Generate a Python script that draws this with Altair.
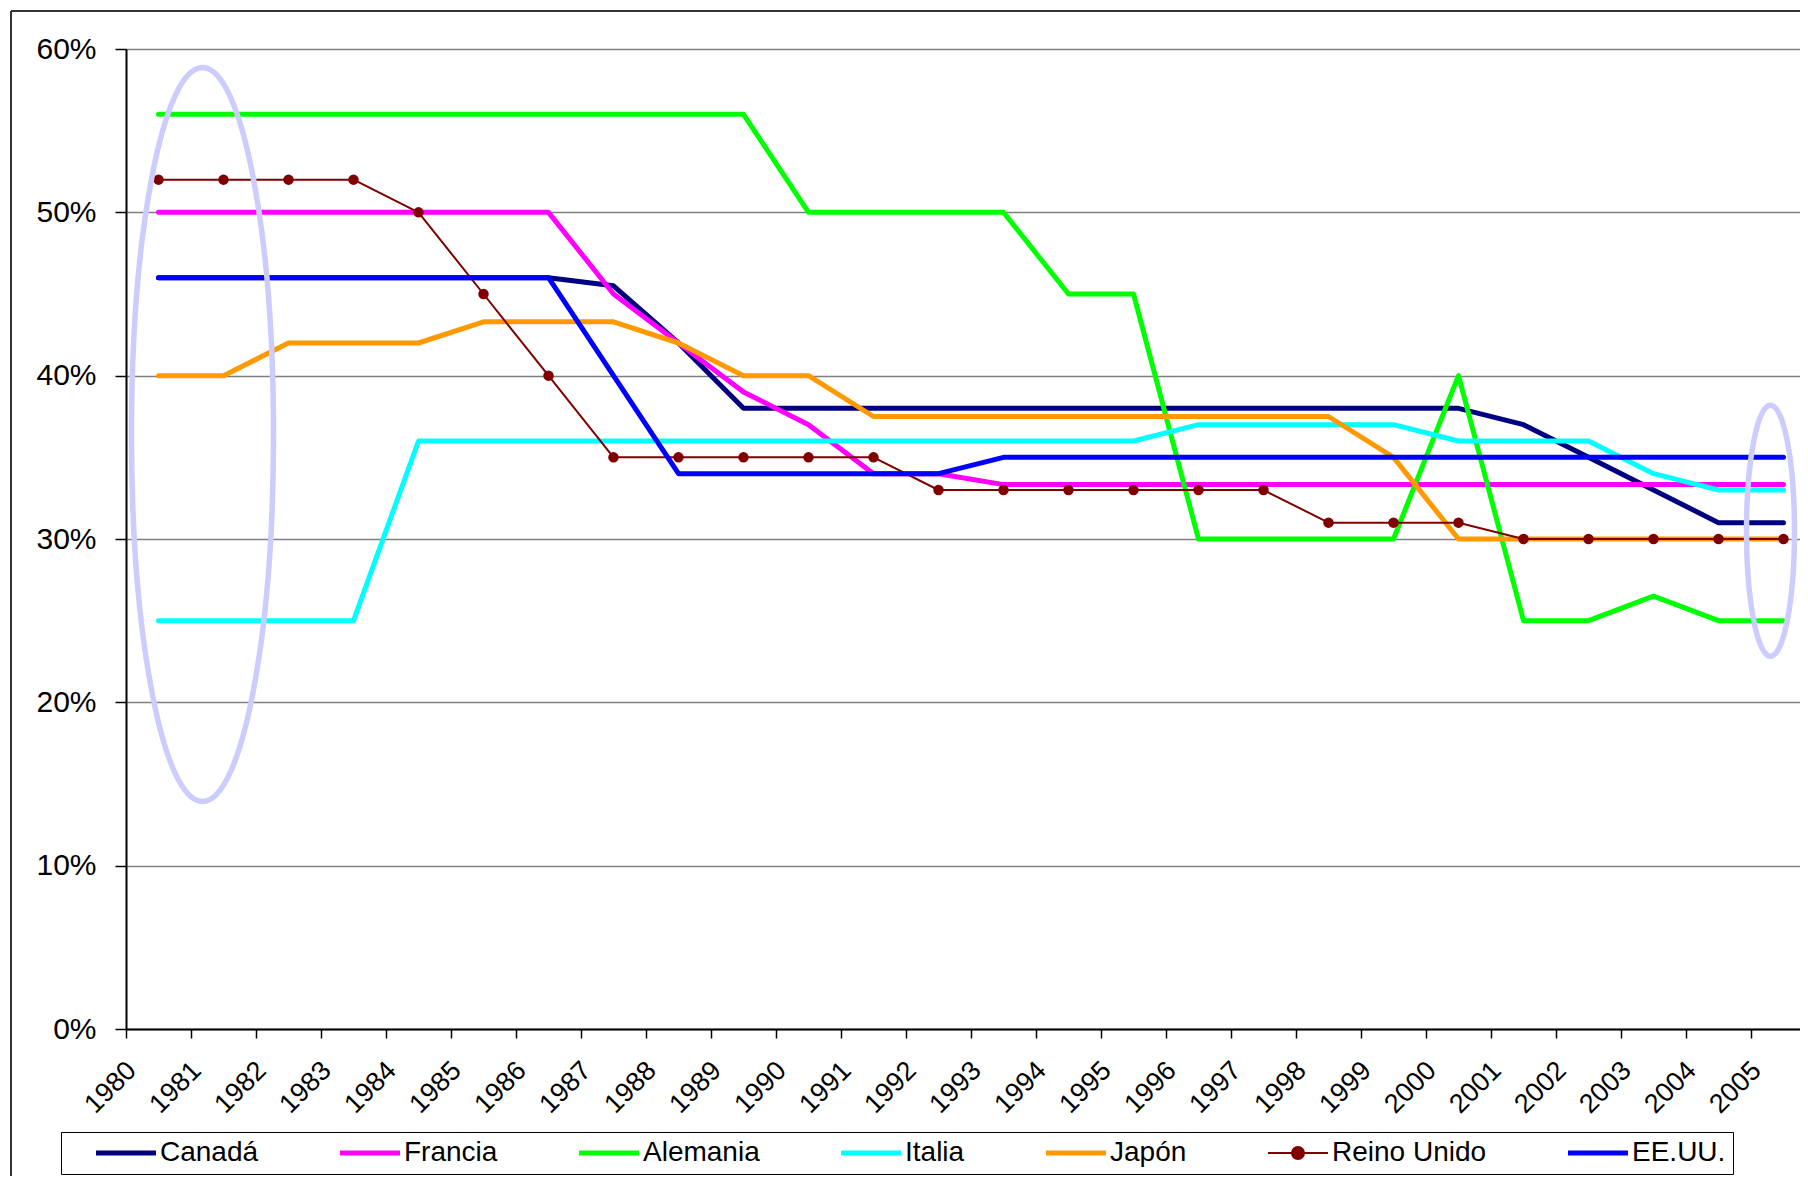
import altair as alt
import pandas as pd

years = [str(y) for y in range(1980, 2006)]
countries = ["Canadá", "Francia", "Alemania", "Italia", "Japón", "Reino Unido", "EE.UU."]
colors = ["#000080", "#FF00FF", "#00FF00", "#00FFFF", "#FF9900", "#800000", "#0000FF"]

canada = [46, 46, 46, 46, 46, 46, 46, 45.5, 42, 38, 38, 38, 38, 38, 38, 38, 38, 38, 38, 38, 38, 37, 35, 33, 31, 31]
francia = [50, 50, 50, 50, 50, 50, 50, 45, 42, 39, 37, 34, 34, 33.33, 33.33, 33.33, 33.33, 33.33, 33.33, 33.33,
           33.33, 33.33, 33.33, 33.33, 33.33, 33.33]
alemania = [56, 56, 56, 56, 56, 56, 56, 56, 56, 56, 50, 50, 50, 50, 45, 45, 30, 30, 30, 30, 40, 25, 25, 26.5, 25, 25]
italia = [25, 25, 25, 25, 36, 36, 36, 36, 36, 36, 36, 36, 36, 36, 36, 36, 37, 37, 37, 37, 36, 36, 36, 34, 33, 33]
japon = [40, 40, 42, 42, 42, 43.3, 43.3, 43.3, 42, 40, 40, 37.5, 37.5, 37.5, 37.5, 37.5, 37.5, 37.5, 37.5, 35,
         30, 30, 30, 30, 30, 30]
reino_unido = [52, 52, 52, 52, 50, 45, 40, 35, 35, 35, 35, 35, 33, 33, 33, 33, 33, 33, 31, 31, 31, 30, 30, 30, 30, 30]
eeuu = [46, 46, 46, 46, 46, 46, 46, 40, 34, 34, 34, 34, 34, 35, 35, 35, 35, 35, 35, 35, 35, 35, 35, 35, 35, 35]
series = [canada, francia, alemania, italia, japon, reino_unido, eeuu]

# highlighted regions (ellipse annotations): year anchor and centre value (%)
ellipse_years = ["1980", "2005"]
ellipse_centres = [36.4, 30.5]

rows = []
for c, vals in zip(countries, series):
    for y, v in zip(years, vals):
        rows.append({"Año": y, "País": c, "Tasa": v / 100})
df = pd.DataFrame(rows)

FONT = "Liberation Sans"

x_scale = alt.Scale(type="band", domain=years, range=[0, 1690], paddingInner=0, paddingOuter=0)
y_scale = alt.Scale(domain=[0, 0.6], nice=False, zero=True)
color_scale = alt.Scale(domain=countries, range=colors)

x_axis = alt.Axis(title=None, tickBand="extent", labelAngle=-45, labelAlign="right", labelBaseline="middle",
                  labelOffset=-27, labelPadding=28, tickSize=9, tickColor="#000000", tickWidth=1.5,
                  domainColor="#000000", domainWidth=2, labelFontSize=27, labelFont=FONT,
                  labelColor="#000000", grid=False, labelOverlap=False)
y_axis = alt.Axis(title=None, format=".0%", values=[0, 0.1, 0.2, 0.3, 0.4, 0.5, 0.6], tickSize=11,
                  labelPadding=19, labelFontSize=30, labelFont=FONT, labelColor="#000000",
                  gridColor="#808080", gridWidth=1.5, domainColor="#000000", domainWidth=2,
                  tickColor="#000000", tickWidth=1.5)

uk_path = ("M-1,0L1,0M0.2,0C0.2,0.11 0.11,0.2 0,0.2C-0.11,0.2 -0.2,0.11 -0.2,0"
           "C-0.2,-0.11 -0.11,-0.2 0,-0.2C0.11,-0.2 0.2,-0.11 0.2,0Z")

legend = alt.Legend(
    orient="none", legendX=-65, legendY=1083, direction="horizontal", columns=7, title=None,
    symbolSize=3600, labelFontSize=28, labelFont=FONT,
    labelColor="#000000", labelOffset=20, columnPadding=53, padding=7, strokeColor="#000000",
    fillColor="#FFFFFF", labelLimit=400, symbolOffset=44,
    symbolType=alt.ExprRef(expr="datum.value === 'Reino Unido' ? '" + uk_path + "' : 'stroke'"),
    symbolStrokeWidth=alt.ExprRef(expr="datum.value === 'Reino Unido' ? 2 : 5"),
    symbolFillColor=alt.ExprRef(expr="datum.value === 'Reino Unido' ? '#800000' : 'transparent'"),
)

base = alt.Chart(df)
layers = []
for c in countries:
    thin = c == "Reino Unido"
    layers.append(
        base.transform_filter(alt.datum["País"] == c)
        .mark_line(strokeWidth=2 if thin else 5, strokeCap="round", strokeJoin="round")
        .encode(
            x=alt.X("Año:N", scale=x_scale, axis=x_axis, sort=years, bandPosition=0.5),
            y=alt.Y("Tasa:Q", scale=y_scale, axis=y_axis),
            color=alt.Color("País:N", scale=color_scale, legend=legend, sort=countries),
        )
    )
    if thin:
        layers.append(
            base.transform_filter(alt.datum["País"] == c)
            .mark_point(filled=True, size=110, color="#800000", opacity=1)
            .encode(x=alt.X("Año:N", bandPosition=0.5), y="Tasa:Q")
        )


def ellipse_path(ratio):
    k = 0.5523
    a = ratio
    return (f"M0,-1C{k*a:.4f},-1 {a:.4f},-{k} {a:.4f},0C{a:.4f},{k} {k*a:.4f},1 0,1"
            f"C-{k*a:.4f},1 -{a:.4f},{k} -{a:.4f},0C-{a:.4f},-{k} -{k*a:.4f},-1 0,-1Z")


ell_df1 = pd.DataFrame({"Año": [ellipse_years[0]], "Tasa": [ellipse_centres[0] / 100]})
ell_df2 = pd.DataFrame({"Año": [ellipse_years[1]], "Tasa": [ellipse_centres[1] / 100]})
ell1 = alt.Chart(ell_df1).mark_point(shape=ellipse_path(71 / 367), size=734 ** 2, filled=False,
                                      stroke="#CCCCFF", strokeWidth=5.5, opacity=1, xOffset=44).encode(
    x=alt.X("Año:N", bandPosition=0.5), y="Tasa:Q")
ell2 = alt.Chart(ell_df2).mark_point(shape=ellipse_path(24 / 125.5), size=251 ** 2, filled=False,
                                      stroke="#CCCCFF", strokeWidth=5.5, opacity=1, xOffset=-13).encode(
    x=alt.X("Año:N", bandPosition=0.5), y="Tasa:Q")

frame_df = pd.DataFrame({"k": [0]})
frame_v = alt.Chart(frame_df).mark_rule(color="#333333", strokeWidth=2).encode(
    x=alt.value(-115), y=alt.value(-38), y2=alt.value(1200))
frame_h = alt.Chart(frame_df).mark_rule(color="#333333", strokeWidth=2).encode(
    x=alt.value(-115), x2=alt.value(1700), y=alt.value(-38))

chart = alt.layer(*layers, ell1, ell2, frame_v, frame_h).properties(
    width=1674, height=980,
    autosize=alt.AutoSizeParams(type="none"),
    padding={"left": 118, "top": 41, "right": 0, "bottom": 147},
    background="#FFFFFF",
).configure_view(stroke="transparent").configure(font=FONT)

chart.save("out.html", embed_options={"renderer": "svg", "actions": False})
